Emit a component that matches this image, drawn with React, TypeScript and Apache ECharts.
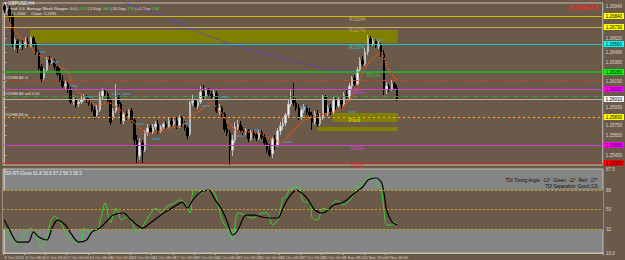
import React, { useEffect, useRef } from "react";
import * as echarts from "echarts";

// ---------- data ----------
const N = 226; // bar slots across the chart width
const timeLabels = [
  "3 Oct 2016", "4 Oct 08:00", "5 Oct 16:00", "7 Oct 00:00", "10 Oct 08:00",
  "11 Oct 16:00", "13 Oct 00:00", "14 Oct 08:00", "17 Oct 16:00", "19 Oct 00:00",
  "20 Oct 08:00", "21 Oct 16:00", "25 Oct 00:00", "26 Oct 08:00", "27 Oct 16:00",
  "31 Oct 00:00", "1 Nov 08:00", "2 Nov 16:00", "4 Nov 00:00",
];

// [open, close, low, high]
const candles: number[][] = [
  [1.2694,1.2690,1.2687,1.2696],[1.2690,1.2692,1.2686,1.2695],[1.2691,1.2684,1.2678,1.2694],[1.2684,1.2656,1.2653,1.2686],
  [1.2656,1.2660,1.2650,1.2662],[1.2659,1.2652,1.2647,1.2661],[1.2653,1.2656,1.2651,1.2658],[1.2656,1.2654,1.2650,1.2660],
  [1.2655,1.2658,1.2652,1.2663],[1.2658,1.2655,1.2653,1.2662],[1.2654,1.2662,1.2652,1.2664],[1.2662,1.2656,1.2653,1.2664],
  [1.2656,1.2648,1.2645,1.2658],[1.2648,1.2632,1.2630,1.2650],[1.2633,1.2621,1.2618,1.2636],[1.2622,1.2630,1.2620,1.2632],
  [1.2630,1.2640,1.2628,1.2643],[1.2640,1.2638,1.2635,1.2644],[1.2638,1.2639,1.2636,1.2642],[1.2639,1.2633,1.2630,1.2641],
  [1.2633,1.2626,1.2624,1.2636],[1.2627,1.2620,1.2618,1.2632],[1.2620,1.2614,1.2612,1.2625],[1.2614,1.2616,1.2611,1.2620],
  [1.2616,1.2610,1.2607,1.2618],[1.2610,1.2598,1.2596,1.2614],[1.2599,1.2601,1.2595,1.2605],[1.2600,1.2595,1.2592,1.2602],
  [1.2596,1.2598,1.2593,1.2600],[1.2598,1.2601,1.2596,1.2604],[1.2601,1.2603,1.2599,1.2606],[1.2603,1.2600,1.2597,1.2605],
  [1.2600,1.2596,1.2594,1.2602],[1.2596,1.2590,1.2588,1.2598],[1.2590,1.2584,1.2581,1.2593],[1.2585,1.2590,1.2583,1.2595],
  [1.2590,1.2604,1.2588,1.2608],[1.2604,1.2609,1.2601,1.2612],[1.2609,1.2606,1.2603,1.2611],[1.2606,1.2599,1.2596,1.2608],
  [1.2600,1.2578,1.2575,1.2602],[1.2582,1.2589,1.2580,1.2592],[1.2589,1.2602,1.2587,1.2616],[1.2602,1.2596,1.2593,1.2605],
  [1.2596,1.2579,1.2576,1.2598],[1.2579,1.2586,1.2576,1.2588],[1.2586,1.2583,1.2580,1.2589],[1.2583,1.2589,1.2581,1.2591],
  [1.2589,1.2580,1.2577,1.2592],[1.2580,1.2560,1.2555,1.2582],[1.2560,1.2544,1.2537,1.2565],[1.2544,1.2557,1.2540,1.2562],
  [1.2557,1.2550,1.2537,1.2560],[1.2550,1.2567,1.2548,1.2570],[1.2567,1.2572,1.2564,1.2576],[1.2572,1.2568,1.2566,1.2575],
  [1.2568,1.2573,1.2566,1.2576],[1.2573,1.2576,1.2570,1.2579],[1.2576,1.2569,1.2566,1.2580],[1.2569,1.2573,1.2567,1.2575],
  [1.2573,1.2576,1.2571,1.2578],[1.2576,1.2573,1.2570,1.2579],[1.2573,1.2579,1.2571,1.2582],[1.2579,1.2576,1.2573,1.2582],
  [1.2576,1.2579,1.2574,1.2581],[1.2579,1.2574,1.2571,1.2583],[1.2574,1.2582,1.2572,1.2585],[1.2582,1.2576,1.2573,1.2584],
  [1.2576,1.2572,1.2569,1.2579],[1.2572,1.2564,1.2561,1.2574],[1.2566,1.2597,1.2564,1.2599],[1.2597,1.2599,1.2594,1.2605],
  [1.2599,1.2594,1.2592,1.2601],[1.2594,1.2598,1.2591,1.2600],[1.2598,1.2608,1.2596,1.2614],[1.2608,1.2604,1.2601,1.2615],
  [1.2604,1.2610,1.2602,1.2612],[1.2610,1.2606,1.2604,1.2612],[1.2606,1.2603,1.2600,1.2609],[1.2603,1.2607,1.2601,1.2610],
  [1.2607,1.2589,1.2587,1.2609],[1.2589,1.2592,1.2585,1.2596],[1.2592,1.2586,1.2583,1.2594],[1.2586,1.2571,1.2568,1.2588],
  [1.2571,1.2567,1.2564,1.2576],[1.2567,1.2550,1.2535,1.2570],[1.2550,1.2560,1.2544,1.2565],[1.2560,1.2573,1.2557,1.2578],
  [1.2573,1.2575,1.2570,1.2580],[1.2575,1.2570,1.2567,1.2579],[1.2570,1.2568,1.2564,1.2573],[1.2568,1.2569,1.2565,1.2572],
  [1.2569,1.2561,1.2558,1.2571],[1.2561,1.2568,1.2559,1.2570],[1.2568,1.2565,1.2562,1.2571],[1.2565,1.2562,1.2559,1.2567],
  [1.2562,1.2567,1.2560,1.2570],[1.2567,1.2563,1.2561,1.2570],[1.2563,1.2557,1.2554,1.2566],[1.2557,1.2550,1.2547,1.2560],
  [1.2550,1.2545,1.2543,1.2556],[1.2546,1.2561,1.2542,1.2563],[1.2561,1.2555,1.2550,1.2565],[1.2555,1.2569,1.2553,1.2572],
  [1.2569,1.2574,1.2565,1.2578],[1.2574,1.2577,1.2570,1.2582],[1.2577,1.2585,1.2574,1.2587],[1.2585,1.2596,1.2582,1.2600],
  [1.2596,1.2600,1.2593,1.2610],[1.2600,1.2597,1.2594,1.2617],[1.2597,1.2592,1.2589,1.2602],[1.2592,1.2582,1.2580,1.2596],
  [1.2583,1.2590,1.2580,1.2593],[1.2590,1.2593,1.2587,1.2596],[1.2593,1.2588,1.2585,1.2595],[1.2588,1.2585,1.2582,1.2592],
  [1.2585,1.2578,1.2570,1.2588],[1.2578,1.2586,1.2575,1.2589],[1.2586,1.2576,1.2573,1.2590],[1.2576,1.2583,1.2574,1.2587],
  [1.2582,1.2603,1.2580,1.2605],[1.2603,1.2587,1.2585,1.2605],[1.2587,1.2592,1.2584,1.2595],[1.2592,1.2588,1.2585,1.2596],
  [1.2588,1.2600,1.2586,1.2603],[1.2600,1.2594,1.2590,1.2602],[1.2594,1.2600,1.2592,1.2603],[1.2600,1.2596,1.2591,1.2602],
  [1.2596,1.2605,1.2594,1.2608],[1.2605,1.2603,1.2600,1.2610],[1.2603,1.2614,1.2601,1.2617],[1.2614,1.2622,1.2611,1.2624],
  [1.2622,1.2616,1.2614,1.2625],[1.2616,1.2630,1.2614,1.2633],[1.2630,1.2640,1.2628,1.2643],[1.2640,1.2636,1.2634,1.2644],
  [1.2636,1.2648,1.2634,1.2652],[1.2648,1.2661,1.2645,1.2665],[1.2661,1.2656,1.2654,1.2664],[1.2656,1.2659,1.2654,1.2662],
  [1.2659,1.2654,1.2652,1.2661],[1.2654,1.2655,1.2651,1.2659],[1.2655,1.2646,1.2643,1.2657],[1.2646,1.2610,1.2605,1.2650],
  [1.2610,1.2614,1.2606,1.2618],[1.2614,1.2611,1.2608,1.2616],[1.2611,1.2616,1.2609,1.2620],[1.2616,1.2612,1.2610,1.2618],
  [1.2612,1.2601,1.2599,1.2615],
];

// [bar index, value]
const fastMA: number[][] = [
  [1,1.2687],[2,1.2677],[6,1.2663],[10,1.2653],[12,1.2647],[15,1.2643],[18,1.2640],[21,1.2633],[24,1.2628],
  [26,1.2615],[30,1.2603],[35,1.2595],[39,1.2597],[42,1.2593],[45,1.2587],[47,1.2582],[50,1.2575],[54,1.2567],
  [57,1.2568],[62,1.2572],[67,1.2575],[71,1.2585],[74,1.2590],[78,1.2597],[80,1.2593],[83,1.2583],[86,1.2573],
  [88,1.2568],[92,1.2568],[96,1.2567],[99,1.2563],[102,1.2560],[104,1.2557],[108,1.2567],[112,1.2577],[116,1.2583],
  [122,1.2587],[126,1.2590],[130,1.2600],[133,1.2613],[135,1.2627],[139,1.2642],[142,1.2647],[143,1.2642],
  [145,1.2630],[148,1.2620],
];
const slowMA: number[][] = [
  [44,1.2702],[46,1.2697],[59,1.2685],[74,1.2667],[89,1.2653],[100,1.2645],[111,1.2638],[126,1.2630],[148,1.2629],
];
const blueTicks: number[][] = [
  [14,1.2648],[19,1.2638],[26,1.2614],[32,1.2603],[42,1.2606],[46,1.2606],[51,1.2576],[57,1.2561],[69,1.2576],
  [76,1.2594],[83,1.2603],[89,1.2564],[95,1.2570],[107,1.2558],[113,1.2593],[131,1.2588],[141,1.2660],
];

const levelNames = ["R150%", "R127%", "R100%", "R61%", "R38%", "Pivot", "S38%", "S61%"];
const levelPrices = [1.2684, 1.2673, 1.2656, 1.2628, 1.2611, 1.2583, 1.2555, 1.2537];
const levelLabelBar = [133, 133, 133, 139, 133, 132, 133, 133];
const stopLoss = 1.2620;
const sellEntry = 1.2604;
const lastPrice = 1.2601;

const zoneStart = [9.7, 123.8, 117.8];
const zoneEnd = [148.3, 148.3, 148.3];
const zoneTop = [1.2670, 1.2587, 1.2573];
const zoneBottom = [1.2657, 1.2578, 1.2569];

// plain price-scale labels (those not covered by the coloured level tags)
const priceTicks = [1.2694, 1.2662, 1.2648, 1.2638, 1.2619, 1.2593, 1.2575, 1.2565, 1.2545];

const tdiGreen: number[][] = [
  [0,34.0],[2,23.8],[4,17.4],[6,22.0],[8,28.4],[10,33.0],[11,29.4],[13,22.0],[14,15.5],[16,23.8],[17,35.8],[19,44.1],
  [21,38.6],[23,29.4],[25,22.0],[27,19.2],[29,20.1],[30,33.0],[32,29.4],[35,31.2],[36,38.6],[38,56.1],[40,37.7],
  [42,51.5],[43,46.9],[44,40.4],[46,43.2],[48,38.6],[50,28.4],[52,34.0],[54,42.3],[57,51.5],[59,46.9],[61,52.4],
  [64,56.1],[66,58.9],[68,56.1],[70,46.9],[71,66.3],[73,68.1],[74,65.3],[76,68.1],[79,66.3],[81,49.7],[82,40.4],
  [85,28.4],[86,22.0],[88,46.9],[91,45.0],[93,42.3],[95,43.2],[97,46.9],[99,46.9],[101,35.8],[103,40.4],[105,60.7],
  [106,61.6],[108,70.0],[111,70.9],[112,61.6],[113,57.0],[115,57.0],[116,42.3],[118,40.4],[120,51.5],[122,49.7],
  [123,51.5],[125,58.9],[126,57.0],[128,54.3],[129,56.1],[131,61.6],[133,70.9],[135,74.6],[137,79.2],[138,82.0],
  [140,77.3],[142,68.1],[143,49.7],[144,35.8],[146,35.8],[147,38.6],[148,35.8],
];
const tdiBlack: number[][] = [
  [0,40.4],[2,31.2],[5,20.1],[9,20.1],[11,29.4],[13,24.7],[16,22.0],[18,33.0],[20,40.4],[23,35.8],[25,28.4],
  [28,20.1],[31,22.0],[33,29.4],[36,33.0],[39,40.4],[41,45.0],[45,46.9],[47,42.3],[50,35.8],[52,33.0],[55,37.7],
  [58,43.2],[60,46.9],[62,49.7],[65,54.3],[67,57.0],[69,51.5],[71,58.9],[74,66.3],[77,68.1],[79,60.7],[82,49.7],
  [84,38.6],[86,26.6],[88,31.2],[91,45.0],[94,45.0],[97,43.2],[100,42.3],[103,42.3],[105,51.5],[107,60.7],
  [110,68.1],[112,65.3],[114,60.7],[117,49.7],[120,46.9],[122,49.7],[124,54.3],[127,56.1],[129,58.9],[132,65.3],
  [135,70.9],[137,77.3],[140,79.2],[142,75.5],[143,65.3],[144,49.7],[146,38.6],[148,35.8],
];
const tdiLevels = [32, 50, 68];
const tdiRange = [10, 87.5];

const tfNames = ["M5", "M15", "M30", "H1", "H4", "D1"];
const tfArrows = ["→", "↗", "↓", "↘", "↓", "→"];
const tfArrowColors = ["#000000", "#22ee22", "#ff2020", "#ff2020", "#ff2020", "#000000"];
const tfSquareColors = ["#ffa000", "#ffa000", "#ff1010", "#ff1010", "#ffa000", "#ffa000"];

// ---------- chart ----------
const FONT = "Liberation Sans";
const BG = "#6b5a4a";
const categories = Array.from({ length: N }, (_, i) =>
  i % 8 === 0 && i / 8 < timeLabels.length ? timeLabels[i / 8] : ""
);

function tag(bg: string) {
  return {
    show: true,
    position: "end",
    distance: 1,
    formatter: (p: any) => Number(p.value).toFixed(5),
    fontSize: 4.5,
    fontFamily: FONT,
    color: "#000",
    backgroundColor: bg,
    padding: [1, 2, 0, 2],
  };
}
function leftNote(text: string) {
  return {
    show: true,
    position: "insideStartTop",
    distance: 1,
    formatter: text,
    fontSize: 4,
    fontFamily: FONT,
    color: "#e6e0d8",
  };
}
const noLabel = { show: false };

function buildOption(): any {
  const levelColors = ["#c8c000", "#c8b050", "#20c4c4", "#22c022", "#d040d0", "#e0c020", "#d040d0", "#c82818"];
  const labelColors = ["#d8d060", "#d0b860", "#40d0d0", "#30d030", "#e040e0", "#f0f000", "#e040e0", "#f02020"];
  const tagColors = ["#ffff00", "#ffff00", "#00ffff", "#00ff00", "#ff00ff", "#ffff00", "#ff00ff", "#ff0000"];

  const markLines: any[] = [];
  markLines.push({ yAxis: stopLoss, lineStyle: { color: "#d83a20", width: 1, type: [5, 2, 1, 2] }, label: leftNote("#CDHB.B4 sl") });
  markLines.push({ yAxis: sellEntry, lineStyle: { color: "#30a830", width: 1, type: [5, 2, 1, 2] }, label: leftNote("#CDHB.B4 sell 0.50") });
  markLines.push({ yAxis: levelPrices[5], lineStyle: { color: "#d83a20", width: 1, type: [5, 3, 1, 3] }, label: leftNote("#CDHB.B4 tp") });
  levelPrices.forEach((p, k) => {
    markLines.push({
      yAxis: p,
      lineStyle: { color: levelColors[k], width: k === 3 ? 1.5 : 1, type: k === 5 ? [2, 3] : "solid" },
      label: tag(tagColors[k]),
    });
  });
  markLines.push({ yAxis: lastPrice, lineStyle: { color: "#b4aca4", width: 1, type: "solid" }, label: tag("#f4f4f4") });

  const markAreas = zoneStart.map((s, k) => [
    { xAxis: s, yAxis: zoneTop[k] },
    { xAxis: zoneEnd[k], yAxis: zoneBottom[k] },
  ]);

  const levelLabelData = levelNames.map((n, k) => ({
    value: [levelLabelBar[k], levelPrices[k]],
    name: n,
    label: { color: labelColors[k] },
  }));

  const colX = [540, 554, 566, 578, 589, 600];
  const graphics: any[] = [
    { type: "text", left: 4, top: 1, style: { text: "▾ GBPUSD,H4", fill: "#eeeeee", font: `4.5px ${FONT}` } },
    {
      type: "text", left: 4, top: 6,
      style: {
        text: "Spread: 3.6  Average Week Ranges: 0.0 | {g|4.32} | 5 Day: {g|306} | 10 Day: {g|276} | 20 Day: {g|258}",
        fill: "#e8e8e8", font: `4px ${FONT}`,
        rich: { g: { fill: "#30e030", font: `4px ${FONT}` } },
      },
    },
    { type: "text", left: 4, top: 11, style: { text: "Low: 1.2340     Close: 1.2190", fill: "#e8e8e8", font: `4px ${FONT}` } },
    { type: "text", left: 569, top: 3, style: { text: "2.39073", fill: "#ff2020", font: `bold 8px ${FONT}` } },
    { type: "text", left: 4, top: 171, style: { text: "TDI-RT-Clone 61.8 30.6 57.2 56.3 36.3", fill: "#f0f0f0", font: `4.5px ${FONT}` } },
    { type: "text", right: 27, top: 178, style: { text: "TDI Timing Angle: -13°  Green: -11°  Red: -17°", fill: "#101010", font: `4.5px ${FONT}`, align: "right" } },
    { type: "text", right: 27, top: 184, style: { text: "TDI Separation: Good (13)", fill: "#101010", font: `4.5px ${FONT}`, align: "right" } },
  ];
  tfNames.forEach((n, k) => {
    graphics.push({ type: "text", x: colX[k], y: 192, style: { text: n, fill: "#303030", font: `4px ${FONT}`, align: "center" } });
    graphics.push({ type: "text", x: colX[k], y: 198, style: { text: tfArrows[k], fill: tfArrowColors[k], font: `bold 7px DejaVu Sans`, align: "center" } });
    graphics.push({ type: "circle", shape: { cx: colX[k], cy: 208, r: 1.8 }, style: { fill: "none", stroke: "#6e6e6e", lineWidth: 0.8 } });
    graphics.push({ type: "rect", shape: { x: colX[k] - 1.7, y: 214.5, width: 3.4, height: 3.4 }, style: { fill: tfSquareColors[k] } });
  });

  const axisColor = "#c4bcb4";

  return {
    animation: false,
    backgroundColor: BG,
    textStyle: { fontFamily: FONT },
    grid: [
      { left: 3, right: 22, top: 3, height: 162, show: true, borderColor: axisColor, borderWidth: 1, backgroundColor: "transparent" },
      { left: 3, right: 22, top: 169, height: 84, show: true, borderColor: axisColor, borderWidth: 1, backgroundColor: "#858585" },
    ],
    xAxis: [
      { type: "category", gridIndex: 0, data: categories, show: false, boundaryGap: true },
      { type: "value", gridIndex: 0, min: -0.5, max: N - 0.5, show: false },
      {
        type: "category", gridIndex: 1, data: categories, boundaryGap: true,
        axisLine: { lineStyle: { color: axisColor } },
        axisTick: { show: true, interval: (i: number) => categories[i] !== "", length: 2, lineStyle: { color: axisColor } },
        axisLabel: { interval: 0, fontSize: 4, color: "#ddd6ce", align: "left", margin: 2, fontFamily: FONT },
        splitLine: { show: false },
      },
      { type: "value", gridIndex: 1, min: -0.5, max: N - 0.5, show: false },
    ],
    yAxis: [
      {
        type: "value", gridIndex: 0, position: "right", min: 1.2535, max: 1.2697, scale: true,
        axisLine: { show: true, lineStyle: { color: axisColor } },
        axisTick: { show: true, length: 2, lineStyle: { color: axisColor }, customValues: priceTicks },
        axisLabel: { fontSize: 4.5, color: "#ddd6ce", margin: 3, fontFamily: FONT, customValues: priceTicks, formatter: (v: number) => v.toFixed(5) },
        splitLine: { show: false },
      },
      {
        type: "value", gridIndex: 1, position: "right", min: tdiRange[0], max: tdiRange[1],
        axisLine: { show: true, lineStyle: { color: axisColor } },
        axisTick: { show: true, length: 2, lineStyle: { color: axisColor }, customValues: [tdiRange[0], ...tdiLevels, tdiRange[1]] },
        axisLabel: {
          fontSize: 4.5, color: "#ddd6ce", margin: 3, fontFamily: FONT,
          customValues: [tdiRange[0], ...tdiLevels, tdiRange[1]],
          formatter: (v: number) => (tdiLevels.includes(v) ? String(v) : v.toFixed(1)),
        },
        splitLine: { show: false },
      },
    ],
    series: [
      {
        name: "levels", type: "line", xAxisIndex: 1, yAxisIndex: 0, z: 1,
        data: slowMA, symbol: "none", smooth: 0.4, silent: true,
        lineStyle: { color: "#5a3ccc", width: 1.4, type: "dotted" },
        markArea: { silent: true, itemStyle: { color: "#808000", opacity: 1 }, data: markAreas },
        markLine: { silent: true, precision: 5, symbol: ["none", "none"], data: markLines },
      },
      {
        name: "price", type: "candlestick", xAxisIndex: 0, yAxisIndex: 0, z: 4,
        data: candles, barWidth: 2,
        itemStyle: { color: "#f2f2f2", color0: "#000000", borderColor: "#bcbcbc", borderColor0: "#000000", borderWidth: 1 },
      },
      {
        name: "fastMA", type: "line", xAxisIndex: 1, yAxisIndex: 0, z: 5,
        data: fastMA, symbol: "none", smooth: 0.4,
        lineStyle: { color: "#e8561a", width: 1.5, type: "dotted" },
      },
      {
        name: "blue", type: "scatter", xAxisIndex: 1, yAxisIndex: 0, z: 5,
        data: blueTicks, symbol: "rect", symbolSize: [8, 1.2], itemStyle: { color: "#3e9ee0" },
      },
      {
        name: "levelText", type: "scatter", xAxisIndex: 1, yAxisIndex: 0, z: 6,
        data: levelLabelData, symbolSize: 1, itemStyle: { color: "transparent" },
        label: { show: true, position: "bottom", distance: 0, formatter: "{b}", fontSize: 5, fontFamily: FONT },
      },
      { name: "axisHolder", type: "bar", xAxisIndex: 2, yAxisIndex: 1, data: [] },
      {
        name: "tdiGreen", type: "line", xAxisIndex: 3, yAxisIndex: 1, z: 3,
        data: tdiGreen, symbol: "none", smooth: 0.3,
        lineStyle: { color: "#34d434", width: 1 },
        markArea: {
          silent: true, itemStyle: { color: BG, opacity: 1 },
          data: [[{ xAxis: -0.5, yAxis: tdiLevels[0] }, { xAxis: N - 0.5, yAxis: tdiLevels[2] }]],
        },
        markLine: {
          silent: true, precision: 2, symbol: ["none", "none"], label: noLabel,
          data: tdiLevels.map((v) => ({ yAxis: v, lineStyle: { color: "#c8a020", width: 1, type: [2, 2] } })),
        },
      },
      {
        name: "tdiBlack", type: "line", xAxisIndex: 3, yAxisIndex: 1, z: 4,
        data: tdiBlack, symbol: "none", smooth: 0.3,
        lineStyle: { color: "#000000", width: 1.2 },
      },
    ],
    graphic: graphics,
  };
}

export default function App() {
  const ref = useRef<HTMLDivElement>(null);
  useEffect(() => {
    document.body.style.margin = "0";
    const chart = echarts.init(ref.current!, null, { renderer: "svg" });
    chart.setOption(buildOption());
    return () => chart.dispose();
  }, []);
  return <div ref={ref} style={{ position: "fixed", left: 0, top: 0, width: 625, height: 260, background: BG }} />;
}
